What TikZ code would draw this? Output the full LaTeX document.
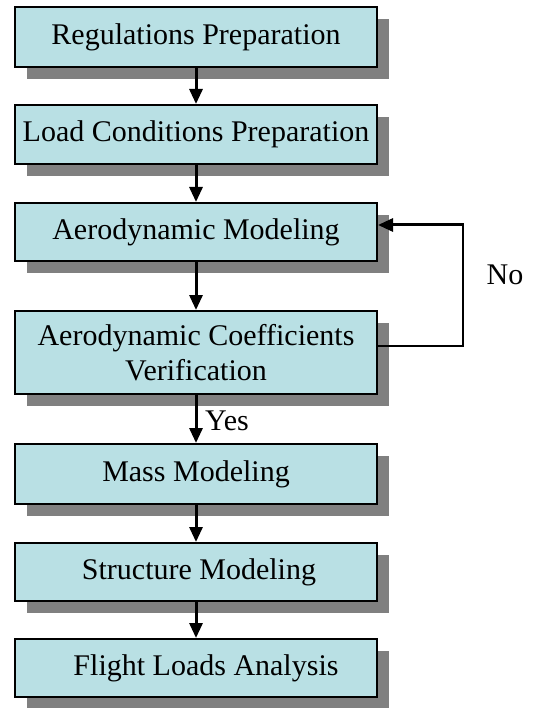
\documentclass[tikz,border=0pt]{standalone}
\usepackage{fontspec}
\setmainfont{Liberation Serif}
\usetikzlibrary{arrows.meta,shadows}

\definecolor{boxfill}{RGB}{185,224,228}
\definecolor{shadowgray}{RGB}{128,128,128}

\tikzset{
  stepbox/.style={
    draw=black, line width=2pt, fill=boxfill,
    minimum width=362pt, inner sep=0pt, align=center,
    font=\fontsize{30}{35}\selectfont,
    drop shadow={shadow xshift=12pt, shadow yshift=-12pt,
                 fill=shadowgray, opacity=1}
  },
  flow/.style={line width=3pt, -{Triangle[length=15pt,width=13pt]}},
  loopline/.style={line width=1.5pt},
  lbl/.style={font=\fontsize{30}{35}\selectfont, inner sep=0pt}
}

\begin{document}
\begin{tikzpicture}[x=1pt,y=-1pt]
  \useasboundingbox (0,0) rectangle (532,708);

  % process steps
  \node[stepbox, minimum height=60pt] (b1) at (196,37)    {Regulations Preparation};
  \node[stepbox, minimum height=59pt] (b2) at (196,134.5) {Load Conditions Preparation};
  \node[stepbox, minimum height=58pt] (b3) at (196,232)   {Aerodynamic Modeling};
  \node[stepbox, minimum height=83pt] (b4) at (196,352.5) {Aerodynamic Coefficients\\Verification};
  \node[stepbox, minimum height=60pt] (b5) at (196,474)   {Mass Modeling};
  \node[stepbox, minimum height=58pt] (b6) at (196,572)   {\hspace*{6pt}Structure Modeling};
  \node[stepbox, minimum height=58pt] (b7) at (196,668)   {\hspace*{20pt}Flight Loads Analysis};

  % forward flow
  \draw[flow] (b1) -- (b2);
  \draw[flow] (b2) -- (b3);
  \draw[flow] (b3) -- (b4);
  \draw[flow] (b4) -- (b5);
  \draw[flow] (b5) -- (b6);
  \draw[flow] (b6) -- (b7);

  % feedback loop when the coefficients are rejected
  \coordinate (c1) at (463,346);
  \coordinate (c2) at (463,225);
  \draw[loopline] (c1 -| b4.east) -- (c1) -- (c2);
  \draw[flow] ([xshift=0.75pt]c2) -- (c2 -| b3.east);

  % decision labels
  \node[lbl, anchor=base west] (yes) at (205,430) {Yes};
  \node[lbl] (no) at (505,275) {No};
\end{tikzpicture}
\end{document}
